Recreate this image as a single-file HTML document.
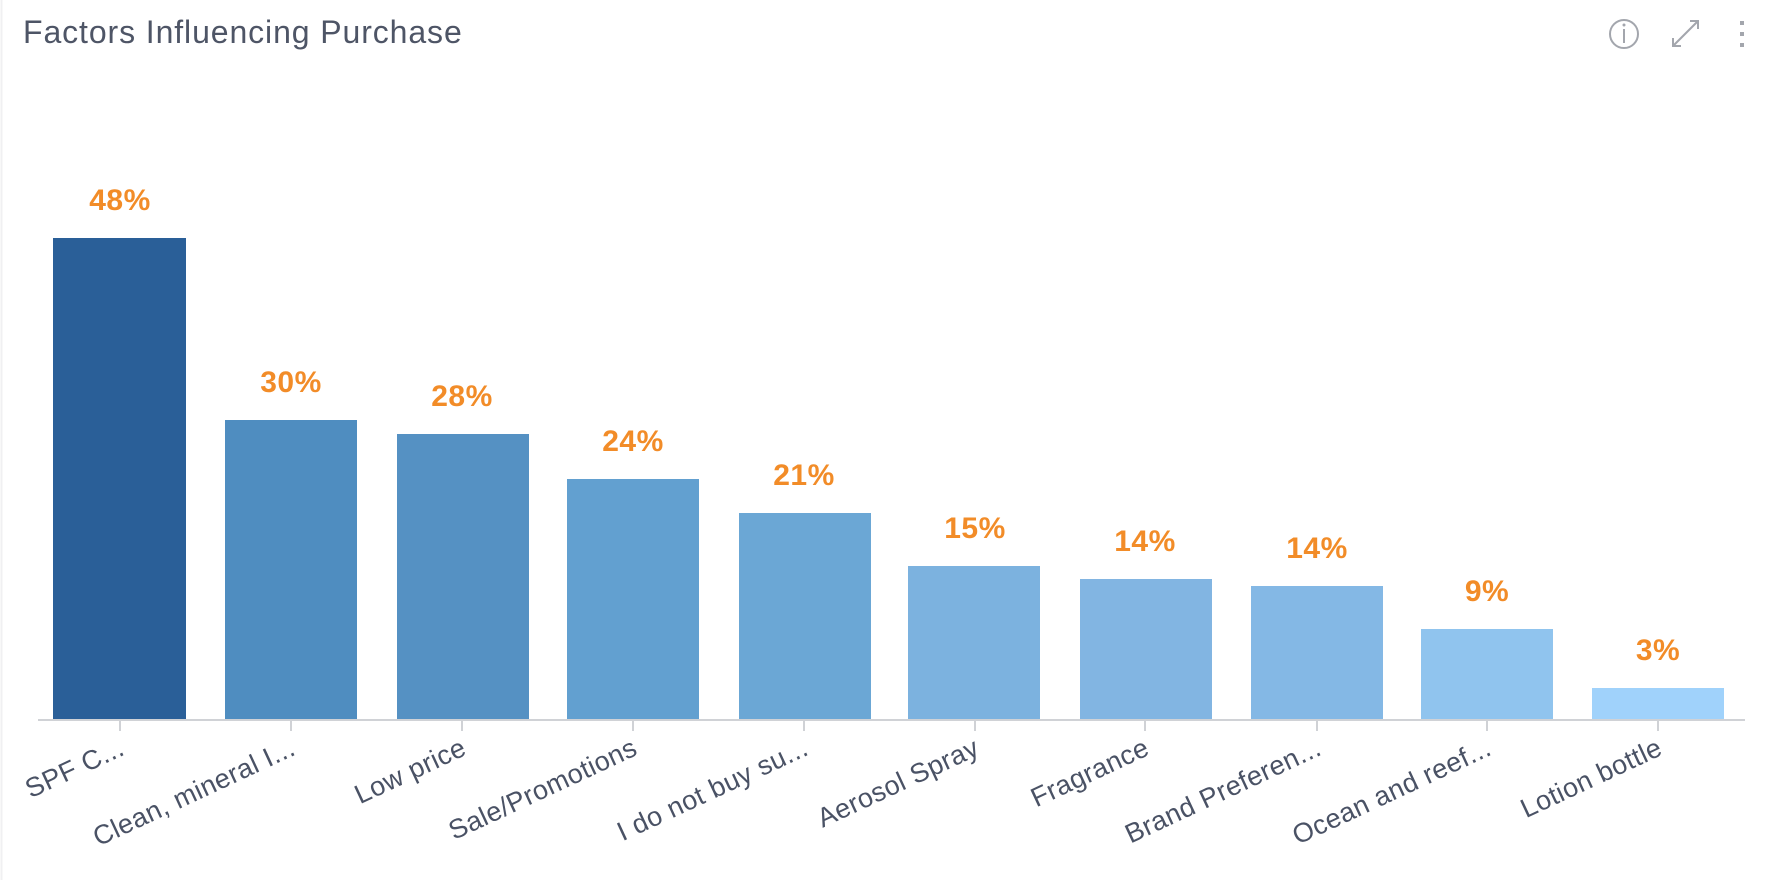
<!DOCTYPE html>
<html><head><meta charset="utf-8"><style>
html,body{margin:0;padding:0;background:#fff;}
svg{display:block;font-family:"Liberation Sans",sans-serif;}
</style></head><body>
<svg width="1784" height="880" viewBox="0 0 1784 880" xmlns="http://www.w3.org/2000/svg">
<rect x="0" y="0" width="1784" height="880" fill="#fff"/>
<line x1="1.5" y1="0" x2="1.5" y2="880" stroke="#f0f0f2" stroke-width="2"/>
<text x="23" y="43" font-size="32" fill="#4e5566" letter-spacing="0.9">Factors Influencing Purchase</text>
<circle cx="1624" cy="34" r="14" fill="none" stroke="#a3a6ad" stroke-width="2"/>
<line x1="1624" y1="29" x2="1624" y2="43" stroke="#a3a6ad" stroke-width="2"/>
<circle cx="1624" cy="25" r="1.5" fill="#a3a6ad"/>
<g stroke="#a3a6ad" stroke-width="2" fill="none">
<line x1="1673" y1="46" x2="1698" y2="21"/>
<polyline points="1673,38 1673,46 1681,46"/>
<polyline points="1690,21 1698,21 1698,29"/>
</g>
<g fill="#a3a6ad"><rect x="1740" y="21" width="4" height="4"/><rect x="1740" y="32" width="4" height="4"/><rect x="1740" y="43" width="4" height="4"/></g>
<g>
<rect x="53" y="238" width="133" height="481" fill="#2a5f98"/>
<rect x="225" y="420" width="132" height="299" fill="#4f8dc0"/>
<rect x="397" y="434" width="132" height="285" fill="#5591c3"/>
<rect x="567" y="479" width="132" height="240" fill="#62a0d0"/>
<rect x="739" y="513" width="132" height="206" fill="#6ba7d5"/>
<rect x="908" y="566" width="132" height="153" fill="#7cb2df"/>
<rect x="1080" y="579" width="132" height="140" fill="#82b5e2"/>
<rect x="1251" y="586" width="132" height="133" fill="#84b8e5"/>
<rect x="1421" y="629" width="132" height="90" fill="#90c4ee"/>
<rect x="1592" y="688" width="132" height="31" fill="#a0d2fb"/>
</g>
<line x1="38" y1="720" x2="1745" y2="720" stroke="#d0d2d6" stroke-width="2"/>
<g stroke="#d0d2d6" stroke-width="2">
<line x1="120" y1="720" x2="120" y2="731"/><line x1="291" y1="720" x2="291" y2="731"/><line x1="462" y1="720" x2="462" y2="731"/><line x1="633" y1="720" x2="633" y2="731"/><line x1="804" y1="720" x2="804" y2="731"/><line x1="975" y1="720" x2="975" y2="731"/><line x1="1145" y1="720" x2="1145" y2="731"/><line x1="1317" y1="720" x2="1317" y2="731"/><line x1="1487" y1="720" x2="1487" y2="731"/><line x1="1658" y1="720" x2="1658" y2="731"/>
</g>
<g font-size="30" font-weight="bold" fill="#f28c28" text-anchor="middle" letter-spacing="0.5">
<text x="120" y="210">48%</text><text x="291" y="392">30%</text><text x="462" y="406">28%</text><text x="633" y="451">24%</text><text x="804" y="485">21%</text><text x="975" y="538">15%</text><text x="1145" y="551">14%</text><text x="1317" y="558">14%</text><text x="1487" y="601">9%</text><text x="1658" y="660">3%</text>
</g>
<g font-size="27" fill="#4a5265" text-anchor="end" letter-spacing="0.4">
<text transform="translate(126,754) rotate(-25)">SPF C...</text>
<text transform="translate(297,754) rotate(-25)">Clean, mineral I...</text>
<text transform="translate(468,754) rotate(-25)">Low price</text>
<text transform="translate(639,754) rotate(-25)">Sale/Promotions</text>
<text transform="translate(810,754) rotate(-25)">I do not buy su...</text>
<text transform="translate(981,754) rotate(-25)">Aerosol Spray</text>
<text transform="translate(1151,754) rotate(-25)">Fragrance</text>
<text transform="translate(1323,754) rotate(-25)">Brand Preferen...</text>
<text transform="translate(1493,754) rotate(-25)">Ocean and reef...</text>
<text transform="translate(1664,754) rotate(-25)">Lotion bottle</text>
</g>
</svg>
</body></html>
